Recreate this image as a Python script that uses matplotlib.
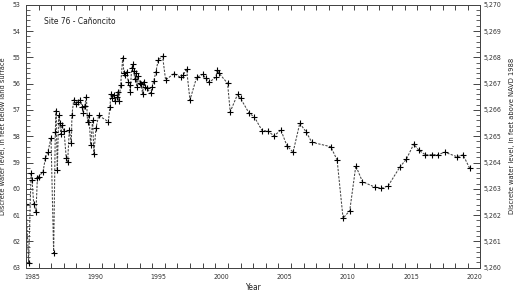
import matplotlib
matplotlib.use("Agg")
import matplotlib.pyplot as plt
from matplotlib.ticker import MultipleLocator, FixedLocator, FuncFormatter

plt.rcParams['font.family'] = ['Liberation Sans Narrow', 'DejaVu Sans']
plt.rcParams['font.stretch'] = 'condensed'

# Decimal year (year Y spans Y..Y+1) and depth to water, feet below land surface
years = [
    1985.00, 1985.21, 1985.40, 1985.48, 1985.61, 1985.79, 1985.90, 1986.00,
    1986.35, 1986.53, 1986.74, 1986.98, 1987.19, 1987.32, 1987.38, 1987.48,
    1987.59, 1987.67, 1987.77, 1987.85, 1988.01, 1988.19, 1988.30, 1988.43,
    1988.59, 1988.64, 1988.78, 1988.98, 1989.12, 1989.30, 1989.43, 1989.54,
    1989.65, 1989.78, 1989.88, 1989.99, 1990.12, 1990.28, 1990.38, 1990.54,
    1990.76, 1991.52, 1991.65, 1991.73, 1991.83, 1991.97, 1992.05, 1992.18,
    1992.28, 1992.36, 1992.50, 1992.66, 1992.76, 1992.86, 1992.97, 1993.10,
    1993.21, 1993.26, 1993.37, 1993.45, 1993.53, 1993.63, 1993.71, 1993.76,
    1993.87, 1994.00, 1994.13, 1994.24, 1994.32, 1994.42, 1994.56, 1994.87,
    1995.00, 1995.13, 1995.29, 1995.48, 1995.82, 1996.06, 1996.72, 1997.25,
    1997.46, 1997.72, 1997.99, 1998.52, 1999.00, 1999.25, 1999.51, 2000.04,
    2000.15, 2000.30, 2000.97, 2001.18, 2001.76, 2002.00, 2002.68, 2003.08,
    2003.71, 2004.14, 2004.66, 2005.19, 2005.67, 2006.16, 2006.69, 2007.20,
    2007.64, 2009.15, 2009.65, 2010.12, 2010.65, 2011.13, 2011.66, 2012.66,
    2013.16, 2013.69, 2014.61, 2015.14, 2015.72, 2016.12, 2016.65, 2017.18,
    2017.65, 2018.18, 2019.15, 2019.63, 2020.15,
]
depth = [
    60.59, 62.81, 59.39, 59.67, 60.58, 60.87, 59.60, 59.54,
    59.35, 58.84, 58.59, 58.06, 62.45, 57.83, 57.03, 59.29,
    57.19, 57.51, 57.93, 57.57, 57.79, 58.84, 58.97, 57.76,
    58.25, 57.19, 56.62, 56.78, 56.69, 56.62, 56.88, 57.13,
    56.85, 56.50, 57.47, 57.19, 58.33, 57.38, 58.68, 57.70,
    57.21, 57.45, 56.88, 56.41, 56.56, 56.43, 56.66, 56.50,
    56.31, 56.65, 56.05, 55.02, 55.61, 55.67, 55.55, 55.93,
    56.05, 56.31, 55.42, 55.27, 55.52, 55.84, 55.61, 56.12,
    55.71, 55.99, 56.03, 56.40, 55.93, 56.12, 56.16, 56.37,
    56.12, 55.89, 55.55, 55.10, 54.96, 55.86, 55.62, 55.76,
    55.67, 55.44, 56.62, 55.76, 55.65, 55.80, 55.95, 55.76,
    55.48, 55.61, 55.99, 57.07, 56.41, 56.56, 57.13, 57.26,
    57.79, 57.80, 57.99, 57.76, 58.36, 58.61, 57.51, 57.84,
    58.23, 58.40, 58.91, 61.12, 60.83, 59.13, 59.73, 59.94,
    59.98, 59.89, 59.18, 58.87, 58.30, 58.53, 58.71, 58.70,
    58.70, 58.61, 58.78, 58.71, 59.22,
]
land_surface = 5323  # feet above NAVD 1988
year_labels = [1985, 1990, 1995, 2000, 2005, 2010, 2015, 2020]

fig = plt.figure(figsize=(5.14, 2.96), dpi=100)
ax = fig.add_axes([0.0506, 0.0956, 0.884, 0.8885])

ax.plot(years, depth, color='#444444', lw=0.75, ls=(0, (2.2, 1.3)),
        marker='+', ms=4.5, mew=0.8, mec='black')

ax.set_xlim(1985, 2021)
ax.set_ylim(63, 53)

# years are labelled in the middle of each year interval
ax.xaxis.set_major_locator(FixedLocator([y + 0.5 for y in year_labels]))
ax.set_xticklabels([str(y) for y in year_labels])
ax.xaxis.set_minor_locator(MultipleLocator(1))
ax.tick_params(axis='x', which='major', length=0, pad=4.5, labelsize=5,
               labelcolor='#333333')
ax.tick_params(axis='x', which='minor', direction='in', length=3.5, width=0.7,
               top=True, bottom=True, color='#444444')

ax.yaxis.set_major_locator(MultipleLocator(1))
ax.yaxis.set_minor_locator(MultipleLocator(0.2))
ax.tick_params(axis='y', which='major', direction='in', length=5, width=0.7,
               pad=4, labelsize=5, labelcolor='#333333', color='#444444')
ax.tick_params(axis='y', which='minor', direction='in', length=3, width=0.6,
               color='#444444')

ax2 = ax.twinx()
ax2.set_ylim(land_surface - 63, land_surface - 53)
ax2.yaxis.set_major_locator(MultipleLocator(1))
ax2.yaxis.set_minor_locator(MultipleLocator(0.2))
ax2.yaxis.set_major_formatter(FuncFormatter(lambda v, p: f"{v:,.0f}"))
ax2.tick_params(axis='y', which='major', direction='in', length=5, width=0.7,
                pad=2.5, labelsize=5, labelcolor='#333333', color='#444444')
ax2.tick_params(axis='y', which='minor', direction='in', length=3, width=0.6,
                color='#444444')

for a in (ax, ax2):
    for s in a.spines.values():
        s.set_color('#444444')
        s.set_linewidth(0.7)

ax.set_xlabel('Year', fontsize=6, color='#222222')
ax.set_ylabel('Discrete water level, in feet below land surface', fontsize=5.3,
              color='#222222')
ax2.set_ylabel('Discrete water level, in feet above NAVD 1988', fontsize=5.4,
               rotation=90, color='#222222')
ax.xaxis.set_label_coords(0.5, -0.06)
ax.yaxis.set_label_coords(-0.045, 0.5)
ax2.yaxis.set_label_coords(1.062, 0.5)

ax.text(0.039, 0.935, 'Site 76 - Cañoncito', transform=ax.transAxes,
        fontsize=6, va='center', ha='left', color='#222222')

fig.savefig('out.png', dpi=100)
